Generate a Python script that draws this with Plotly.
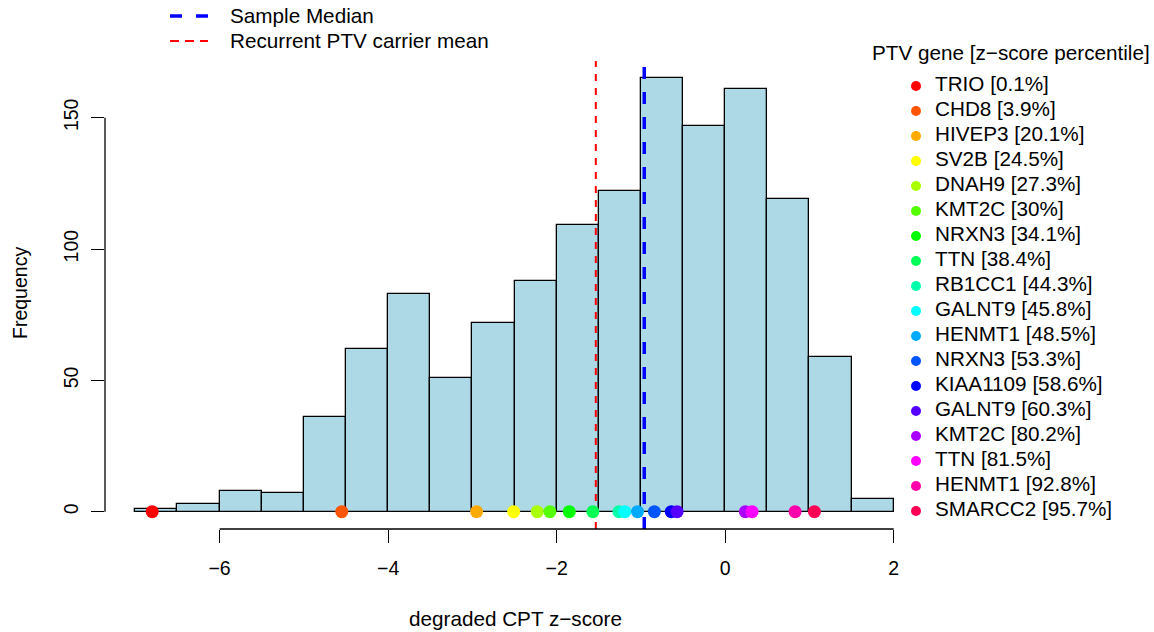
import numpy as np
import plotly.graph_objects as go

# ---------------- data ----------------
bin_edges = [-7.0, -6.5, -6.0, -5.5, -5.0, -4.5, -4.0, -3.5, -3.0, -2.5,
             -2.0, -1.5, -1.0, -0.5, 0.0, 0.5, 1.0, 1.5, 2.0]
counts = [1, 3, 8, 7, 36, 62, 83, 51, 72, 88, 109, 122, 165, 147, 161, 119, 59, 5]

genes = ["TRIO", "CHD8", "HIVEP3", "SV2B", "DNAH9", "KMT2C", "NRXN3", "TTN",
         "RB1CC1", "GALNT9", "HENMT1", "NRXN3", "KIAA1109", "GALNT9", "KMT2C",
         "TTN", "HENMT1", "SMARCC2"]
percentiles = ["0.1%", "3.9%", "20.1%", "24.5%", "27.3%", "30%", "34.1%", "38.4%",
               "44.3%", "45.8%", "48.5%", "53.3%", "58.6%", "60.3%", "80.2%",
               "81.5%", "92.8%", "95.7%"]
zscores = [-6.80, -4.55, -2.95, -2.51, -2.23, -2.08, -1.85, -1.57, -1.26, -1.19,
           -1.04, -0.84, -0.64, -0.57, 0.24, 0.32, 0.83, 1.06]
gene_colors = ["#FF0000", "#FF5500", "#FFAA00", "#FFFF00", "#AAFF00", "#55FF00",
               "#00FF00", "#00FF55", "#00FFAA", "#00FFFF", "#00AAFF", "#0055FF",
               "#0000FF", "#5500FF", "#AA00FF", "#FF00FF", "#FF00AA", "#FF0055"]

sample_median = -0.96
carrier_mean = float(np.mean(zscores))

x_ticks = [-6, -4, -2, 0, 2]
x_ticktext = ["\u22126", "\u22124", "\u22122", "0", "2"]
y_ticks = [0, 50, 100, 150]

# ---------------- layout constants ----------------
W, H = 1154, 632
ML, MR, MT, MB = 105, 230, 61, 103
PW, PH = W - ML - MR, H - MT - MB
FONT = "Liberation Sans"
FS = 20.7
TFS = 19.5

xr = [bin_edges[0] - 0.04 * (bin_edges[-1] - bin_edges[0]),
      bin_edges[-1] + 0.04 * (bin_edges[-1] - bin_edges[0])]
yr = [-0.04 * max(counts), 1.04 * max(counts)]


def px_x(p):
    return (p - ML) / PW


def px_y(p):
    return (H - MB - p) / PH


centers = [(a + b) / 2 for a, b in zip(bin_edges[:-1], bin_edges[1:])]
widths = [b - a for a, b in zip(bin_edges[:-1], bin_edges[1:])]

fig = go.Figure()

fig.add_trace(go.Bar(
    x=centers, y=counts, width=widths,
    marker=dict(color="#ADD8E6", line=dict(color="black", width=1.3)),
    showlegend=False, hoverinfo="x+y"))

fig.add_trace(go.Scatter(
    x=[carrier_mean, carrier_mean], y=yr, mode="lines",
    line=dict(color="red", width=2, dash="7px,7px"), showlegend=False))
fig.add_trace(go.Scatter(
    x=[sample_median, sample_median], y=yr, mode="lines",
    line=dict(color="blue", width=3.5, dash="12px,13px"), showlegend=False))

fig.add_trace(go.Scatter(
    x=zscores, y=[0] * len(zscores), mode="markers",
    marker=dict(color=gene_colors, size=13, line=dict(width=0)),
    text=genes, cliponaxis=False, showlegend=False))

# ---- right-hand legend drawn on a pixel-scaled overlay axis ----
leg_marker_x = 916
leg_text_gap = 19
leg_row0 = 86
leg_step = 25
rows = [leg_row0 + leg_step * i for i in range(len(genes))]
labels = [f"{g} [{p}]" for g, p in zip(genes, percentiles)]

fig.add_trace(go.Scatter(
    x=[leg_marker_x] * len(genes), y=rows, mode="markers",
    marker=dict(color=gene_colors, size=10, line=dict(width=0)),
    xaxis="x2", yaxis="y2", cliponaxis=False, showlegend=False, hoverinfo="skip"))
# invisible spacer markers whose size sets the text offset
spacer = 2 * 0.8 * (leg_text_gap - 1)
fig.add_trace(go.Scatter(
    x=[leg_marker_x] * len(genes), y=rows, mode="markers+text", text=labels,
    marker=dict(color="rgba(0,0,0,0)", size=spacer, line=dict(width=0)),
    textposition="middle right", textfont=dict(family=FONT, size=FS, color="black"),
    xaxis="x2", yaxis="y2", cliponaxis=False, showlegend=False, hoverinfo="skip"))

shapes = [
    # x axis line (from first to last tick)
    dict(type="line", xref="x", yref="paper", x0=x_ticks[0], x1=x_ticks[-1], y0=0, y1=0,
         line=dict(color="black", width=1.3)),
    # y axis line
    dict(type="line", xref="paper", yref="y", x0=0, x1=0, y0=y_ticks[0], y1=y_ticks[-1],
         line=dict(color="black", width=1.3)),
    # top legend keys
    dict(type="line", xref="paper", yref="paper", x0=px_x(170), x1=px_x(208),
         y0=px_y(16), y1=px_y(16), line=dict(color="blue", width=3.5, dash="12px,14px")),
    dict(type="line", xref="paper", yref="paper", x0=px_x(170), x1=px_x(208),
         y0=px_y(41), y1=px_y(41), line=dict(color="red", width=2, dash="9px,6px")),
]

annotations = [
    dict(text="Sample Median", xref="paper", yref="paper", x=px_x(228), y=px_y(16),
         xanchor="left", yanchor="middle", showarrow=False),
    dict(text="Recurrent PTV carrier mean", xref="paper", yref="paper", x=px_x(228),
         y=px_y(41), xanchor="left", yanchor="middle", showarrow=False),
    dict(text="PTV gene [z\u2212score percentile]", xref="paper", yref="paper",
         x=px_x(870), y=px_y(52), xanchor="left", yanchor="middle", showarrow=False),
    dict(text="Frequency", xref="paper", yref="paper", x=px_x(20), y=px_y(293),
         xanchor="center", yanchor="middle", textangle=-90, showarrow=False,
         font=dict(size=19.5)),
    dict(text="degraded CPT z\u2212score", xref="paper", yref="paper", x=px_x(515),
         y=px_y(618), xanchor="center", yanchor="middle", showarrow=False),
]

fig.update_layout(
    width=W, height=H,
    margin=dict(l=ML, r=MR, t=MT, b=MB, pad=0),
    paper_bgcolor="white", plot_bgcolor="white",
    font=dict(family=FONT, size=FS, color="black"),
    bargap=0,
    showlegend=False,
    shapes=shapes,
    annotations=annotations,
    xaxis=dict(range=xr, tickvals=x_ticks, ticktext=x_ticktext, ticks="outside",
               ticklen=13, tickwidth=1.3, tickcolor="black", showline=False,
               showgrid=False, zeroline=False, ticklabelstandoff=9,
               tickfont=dict(family=FONT, size=TFS)),
    yaxis=dict(range=yr, tickvals=y_ticks, ticks="outside", ticklen=13, tickwidth=1.3,
               tickcolor="black", showline=False, showgrid=False, zeroline=False,
               tickangle=-90, ticklabelstandoff=5, tickfont=dict(family=FONT, size=TFS)),
    xaxis2=dict(range=[ML, ML + PW], overlaying="x", anchor="y2", visible=False,
                fixedrange=True),
    yaxis2=dict(range=[H - MB, MT], overlaying="y", anchor="x2", visible=False,
                fixedrange=True),
)

fig.write_html("out.html")
